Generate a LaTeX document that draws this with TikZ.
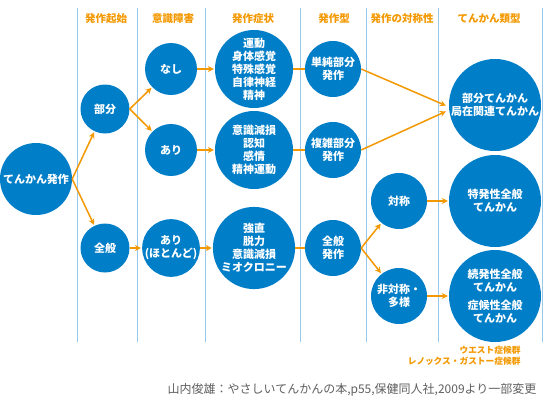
\documentclass[tikz,border=0pt]{standalone}
\usepackage{fontspec}
\setmainfont{Noto Sans CJK JP}
\usetikzlibrary{arrows.meta}

\definecolor{bleu}{RGB}{0,126,200}
\definecolor{orangeF}{RGB}{243,152,0}
\definecolor{trait}{RGB}{150,200,236}
\definecolor{gris}{RGB}{95,95,95}

\begin{document}
\begin{tikzpicture}[x=1pt, y=-1pt,
    rond/.style={circle, fill=bleu, text=white, inner sep=0pt, align=center,
      font=\bfseries\fontsize{11}{13}\selectfont},
    titre/.style={text=orangeF, font=\bfseries\fontsize{10.5}{12}\selectfont},
    fleche/.style={orangeF, line width=1.5pt, -{Stealth[length=6pt,width=6pt]}, shorten >=1pt},
    lien/.style={orangeF, line width=1.5pt}]
    \useasboundingbox (0,0) rectangle (544,400);

    % Colonnes
    \draw[trait, line width=0.8pt]
      (77,8) -- (77,342)   (137,8) -- (137,342) (205,8) -- (205,342)
      (300,8) -- (300,342) (366,8) -- (366,342) (438,8) -- (438,342)
      (542,8) -- (542,342);

    % Titres des colonnes
    \node[titre] (t1) at (106,19) {発作起始};
    \node[titre] (t2) at (173,19) {意識障害};
    \node[titre] (t3) at (253,19) {発作症状};
    \node[titre] (t4) at (334,19) {発作型};
    \node[titre] (t5) at (402,19) {発作の対称性};
    \node[titre] (t6) at (489,19) {てんかん類型};

    % Cercles
    \node[rond, minimum size=72pt] (crise) at (36,179) {てんかん発作};
    \node[rond, minimum size=49pt] (partiel) at (105,109) {部分};
    \node[rond, minimum size=49pt] (general) at (105,248) {全般};
    \node[rond, minimum size=52pt] (sans) at (171,69) {なし};
    \node[rond, minimum size=52pt] (avec) at (171,150) {あり};
    \node[rond, minimum size=52pt] (presque) at (171,248) {あり\\(ほとんど)};
    \node[rond, minimum size=78pt] (sympA) at (254,69) {運動\\身体感覚\\特殊感覚\\自律神経\\精神};
    \node[rond, minimum size=78pt] (sympB) at (254,150) {意識減損\\認知\\感情\\精神運動};
    \node[rond, minimum size=78pt] (sympC) at (254,248) {強直\\脱力\\意識減損\\ミオクロニー};
    \node[rond, minimum size=56pt] (simple) at (333,69) {単純部分\\発作};
    \node[rond, minimum size=56pt] (complexe) at (333,150) {複雑部分\\発作};
    \node[rond, minimum size=56pt] (gen) at (333,248) {全般\\発作};
    \node[rond, minimum size=56pt] (sym) at (399,201) {対称};
    \node[rond, minimum size=56pt] (asym) at (399,296) {非対称・\\多様};
    \node[rond, minimum size=92pt] (epiP) at (495,105) {部分てんかん\\局在関連てんかん};
    \node[rond, minimum size=92pt] (epiI) at (495,201) {特発性全般\\てんかん};
    \node[rond, minimum size=92pt] (epiS) at (495,296) {続発性全般\\てんかん\\[5pt]症候性全般\\てんかん};

    % Fleches
    \draw[fleche] (crise.east) -- (partiel);
    \draw[fleche] (crise.east) -- (general);
    \draw[fleche] (partiel.east) -- (sans);
    \draw[fleche] (partiel.east) -- (avec);
    \draw[fleche] (general) -- (presque);
    \draw[fleche] (sans) -- (sympA);
    \draw[fleche] (avec) -- (sympB);
    \draw[fleche] (presque) -- (sympC);
    \draw[lien] (sympA) -- (simple);
    \draw[lien] (sympB) -- (complexe);
    \draw[lien] (sympC) -- (gen);
    \draw[fleche] (simple.east) -- ([shift={(-2,1)}]epiP.west);
    \draw[fleche] (complexe.east) -- ([shift={(-2,6)}]epiP.west);
    \draw[fleche] (gen.east) -- (sym);
    \draw[fleche] (gen.east) -- (asym);
    \draw[fleche] (sym) -- (epiI);
    \draw[fleche] (asym) -- (epiS);

    % Syndromes et source
    \node[anchor=east, align=right, text=orangeF, font=\bfseries\fontsize{8.7}{11}\selectfont]
      (syndromes) at (524,356) {ウエスト症候群\\レノックス・ガストー症候群};
    \node[anchor=east, text=gris, font=\fontsize{12}{14}\selectfont]
      (source) at (540,390) {山内俊雄：やさしいてんかんの本,p55,保健同人社,2009より一部変更};
\end{tikzpicture}
\end{document}
